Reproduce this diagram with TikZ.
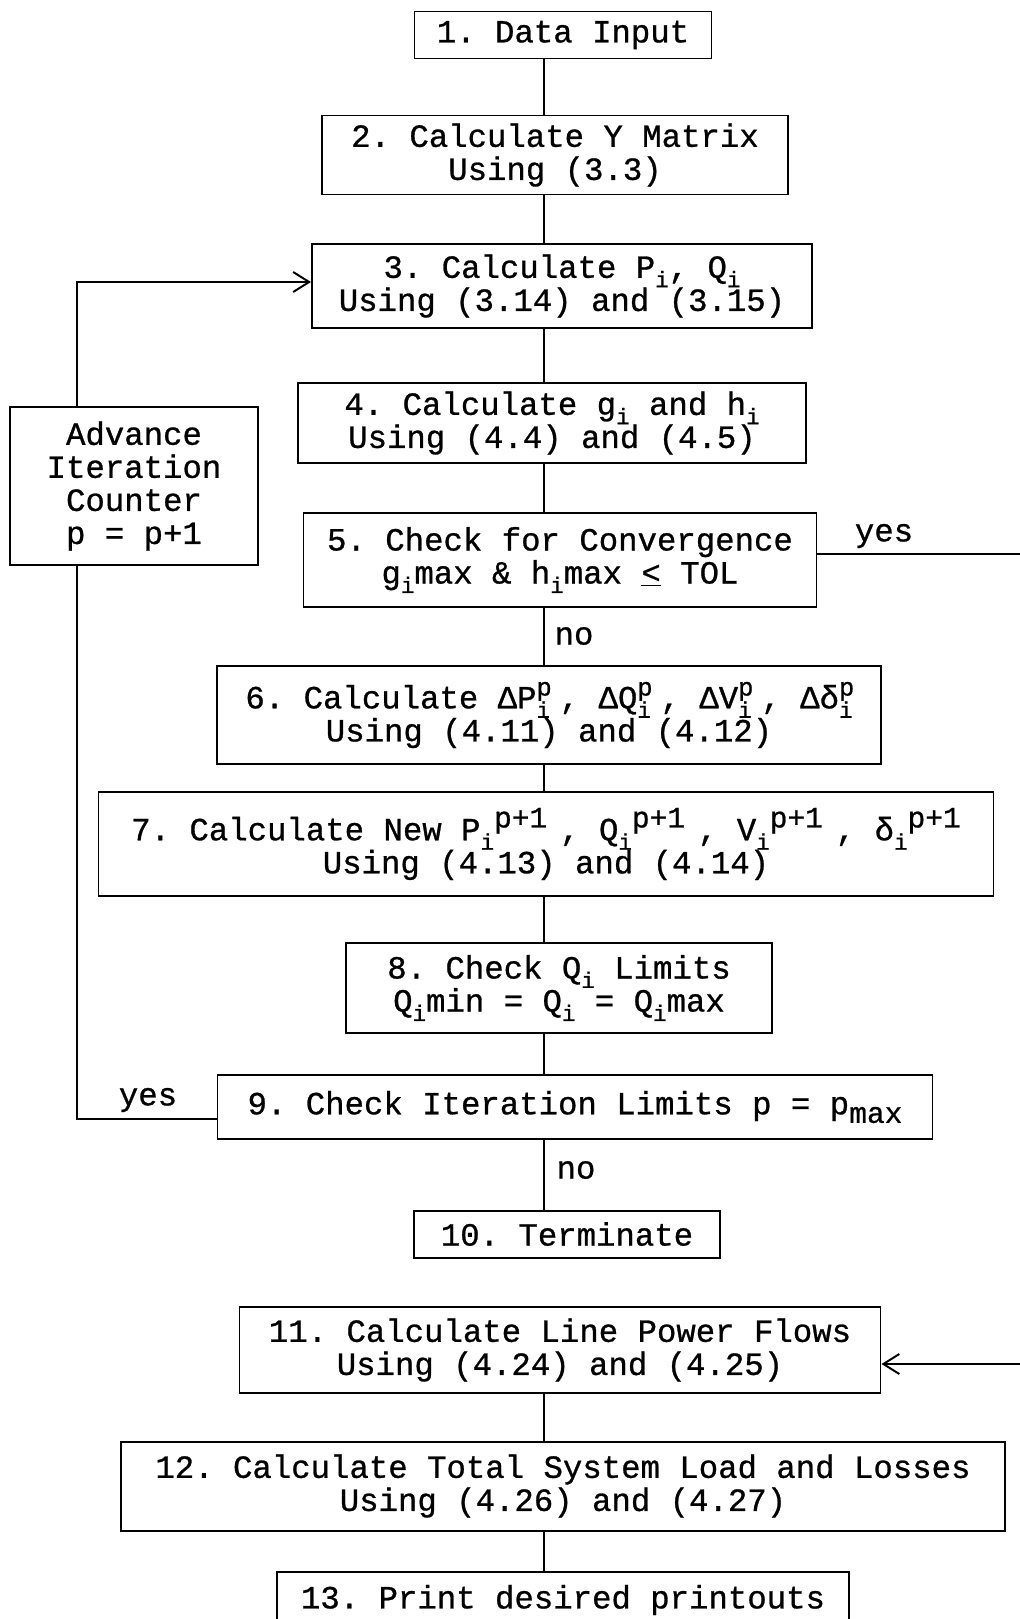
\documentclass[tikz,border=0pt]{standalone}
\usepackage{fontspec}
\setmainfont{Liberation Mono}[FakeBold=0.8]
\usetikzlibrary{arrows.meta}

\newcommand\lowtxt[1]{\raisebox{-0.55ex}{\fontsize{16}{16}\selectfont #1}}
\newcommand\hightxt[1]{\raisebox{0.75ex}{\fontsize{21}{21}\selectfont #1}}
\newcommand\lowbig[1]{\raisebox{-0.5ex}{\fontsize{21}{21}\selectfont #1}}
\newcommand\lowhigh[2]{\makebox[0pt][l]{\raisebox{0.75ex}{\fontsize{18}{18}\selectfont #1}}\lowtxt{#2}\hspace{0.3em}}

\tikzset{
  box/.style 2 args={draw, line width=1.4pt, align=center, inner sep=0pt,
    minimum width=#1*0.025cm, minimum height=#2*0.025cm},
  link/.style={line width=1.4pt},
  lbl/.style={inner sep=0pt}
}

\begin{document}
\frenchspacing
\begin{tikzpicture}[x=0.025cm, y=-0.025cm, font=\fontsize{23}{23.5}\selectfont,
  >={Straight Barb[length=4mm, width=5mm]}]
\clip (0,0) rectangle (1020,1619);
\fill[white] (0,0) rectangle (1020,1619);

% spine and loop lines
\coordinate (sp) at (544,0);
\coordinate (lp) at (77,0);
\coordinate (rp) at (1040,0);

% main steps
\node[box={297}{47}] (b1) at (563,35) {1. Data Input};
\node[box={466}{79}] (b2) at (555,155) {2. Calculate Y Matrix\\Using (3.3)};
\node[box={500}{84}] (b3) at (562,286) {3. Calculate P\lowtxt{i}, Q\lowtxt{i}\\Using (3.14) and (3.15)};
\node[box={508}{80}] (b4) at (552,423) {4. Calculate g\lowtxt{i} and h\lowtxt{i}\\Using (4.4) and (4.5)};
\node[box={513}{94}] (b5) at (560,560) {5. Check for Convergence\\g\lowtxt{i}max \& h\lowtxt{i}max \underline{<} TOL};
\node[box={664}{98}] (b6) at (549,715) {6. Calculate ΔP\lowhigh{p}{i}, ΔQ\lowhigh{p}{i}, ΔV\lowhigh{p}{i}, Δδ\lowhigh{p}{i}\\Using (4.11) and (4.12)};
\node[box={895}{104}] (b7) at (546,844) {7. Calculate New P\lowtxt{i}\hightxt{p+1}\hspace{0.4em}, Q\lowtxt{i}\hightxt{p+1}\hspace{0.4em}, V\lowtxt{i}\hightxt{p+1}\hspace{0.4em}, δ\lowtxt{i}\hightxt{p+1}\\Using (4.13) and (4.14)};
\node[box={426}{90}] (b8) at (559,988) {8. Check Q\lowtxt{i} Limits\\Q\lowtxt{i}min = Q\lowtxt{i} = Q\lowtxt{i}max};
\node[box={715}{64}] (b9) at (575,1107) {9. Check Iteration Limits p = p\lowbig{max}};
\node[box={306}{47}] (b10) at (567,1234) {10. Terminate};
\node[box={641}{86}] (b11) at (560,1350) {11. Calculate Line Power Flows\\Using (4.24) and (4.25)};
\node[box={884}{89}] (b12) at (563,1486) {12. Calculate Total System Load and Losses\\Using (4.26) and (4.27)};
\node[box={572}{56}] (b13) at (563,1600) {13. Print desired printouts};

% iteration counter
\node[box={248}{158}] (adv) at (134,486) {Advance\\Iteration\\Counter\\p = p+1};

% labels
\node[lbl] (yes1) at (884,536) {yes};
\node[lbl] (no1) at (574,636) {no};
\node[lbl] (yes2) at (148,1100) {yes};
\node[lbl] (no2) at (576,1170) {no};

% straight links
\foreach \a/\b in {b1/b2, b2/b3, b3/b4, b4/b5, b5/b6, b6/b7, b7/b8, b8/b9, b9/b10, b11/b12, b12/b13}
  \draw[link] (\a.south -| sp) -- (\b.north -| sp);

% loop back
\draw[link] ([yshift=-0.3cm]b9.west) -| (lp |- adv.south);
\draw[link, ->] (lp |- adv.north) |- ([yshift=0.1cm]b3.west);

% converged
\draw[link, ->] ([yshift=0.15cm]b5.east) -| (rp) |- ([yshift=-0.35cm]b11.east);
\end{tikzpicture}
\end{document}
